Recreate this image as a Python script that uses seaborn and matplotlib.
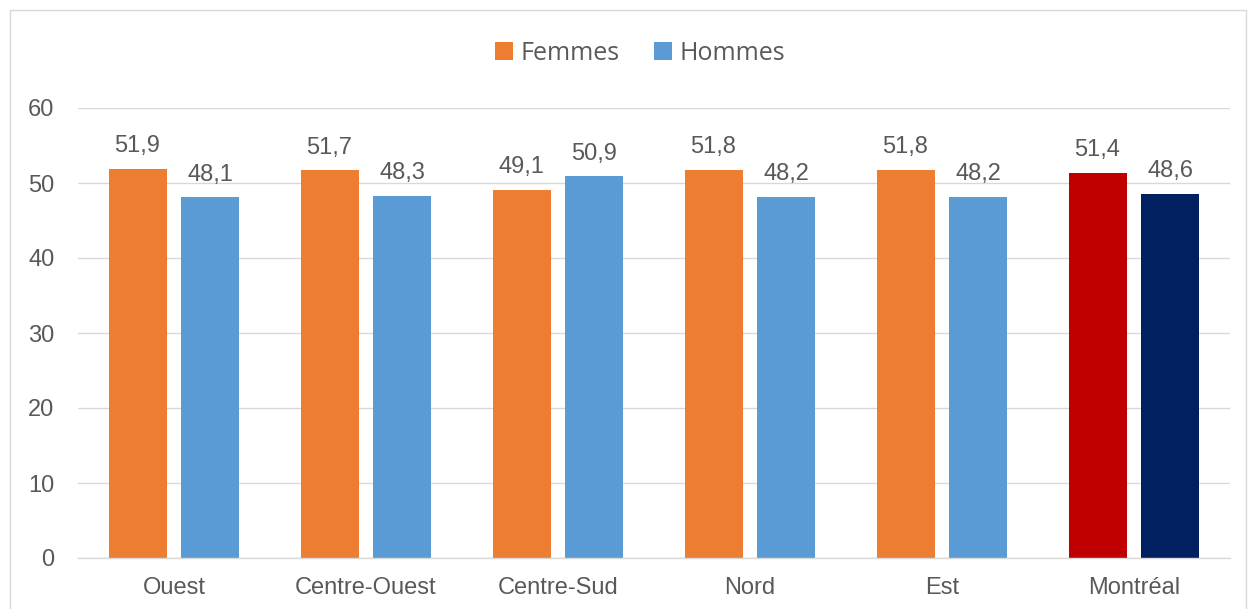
import matplotlib
matplotlib.use("Agg")
import matplotlib.pyplot as plt
import seaborn as sns
import pandas as pd
from matplotlib.patches import Rectangle

regions = ["Ouest", "Centre-Ouest", "Centre-Sud", "Nord", "Est", "Montréal"]
femmes = [51.9, 51.7, 49.1, 51.8, 51.8, 51.4]
hommes = [48.1, 48.3, 50.9, 48.2, 48.2, 48.6]
series = ["Femmes", "Hommes"]
yticks = [0, 10, 20, 30, 40, 50, 60]

orange, blue = "#ED7D31", "#5B9BD5"
red, navy = "#C00000", "#002060"
txt = "#595959"

df = pd.DataFrame({
    "region": regions * 2,
    "sexe": [series[0]] * len(regions) + [series[1]] * len(regions),
    "valeur": femmes + hommes,
})

sns.set_theme(style="white")
plt.rcParams["font.family"] = ["Liberation Sans", "DejaVu Sans"]

fig = plt.figure(figsize=(12.48, 6.09), dpi=100)
ax = fig.add_axes([78 / 1248, 51 / 609, 1152 / 1248, 450 / 609])

sns.barplot(data=df, x="region", y="valeur", hue="sexe", order=regions,
            hue_order=series, palette=[orange, blue], width=0.76, gap=0.205,
            ax=ax, legend=True, saturation=1, linewidth=0, edgecolor="none")

# recolor Montréal bars
for cont, col in zip(ax.containers, [red, navy]):
    cont.patches[-1].set_facecolor(col)
    for bar in cont.patches:
        h = bar.get_height()
        ax.annotate(f"{h:.1f}".replace(".", ","),
                    (bar.get_x() + bar.get_width() / 2, h),
                    xytext=(0, 12), textcoords="offset points",
                    ha="center", va="baseline", fontsize=17, color=txt)

ax.set_xlim(-0.5, len(regions) - 0.5)
ax.set_ylim(0, 60)
ax.set_yticks(yticks)
ax.yaxis.grid(True, color="#D9D9D9", linewidth=1)
ax.set_axisbelow(True)
for s in ["top", "right", "left"]:
    ax.spines[s].set_visible(False)
ax.spines["bottom"].set_color("#D9D9D9")
ax.spines["bottom"].set_linewidth(1)
ax.tick_params(axis="both", labelsize=17, colors=txt, length=0)
ax.tick_params(axis="y", pad=17)
ax.tick_params(axis="x", pad=14)
ax.set_xlabel("")
ax.set_ylabel("")

handles, labels = ax.get_legend_handles_labels()
ax.legend_.remove()
fig.legend(handles, labels, loc="center", bbox_to_anchor=(640 / 1248, 1 - 53 / 609),
           ncol=2, frameon=False, prop={"family": "Open Sans", "size": 18},
           handlelength=0.7, handleheight=0.7,
           handletextpad=0.3, columnspacing=1.4, labelcolor=txt)

fig.patches.append(Rectangle((10 / 1248, -0.01), 1236 / 1248, 1 - 10 / 609 + 0.01,
                             transform=fig.transFigure, fill=False,
                             edgecolor="#D9D9D9", linewidth=1))

fig.savefig("out.png", dpi=100, facecolor="white")
